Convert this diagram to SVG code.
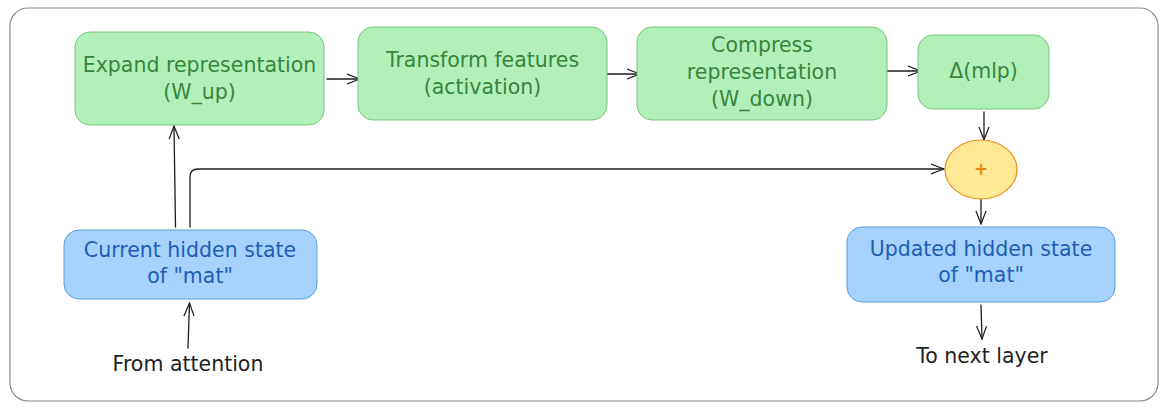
<svg xmlns="http://www.w3.org/2000/svg" width="1168" height="410" viewBox="0 0 1168 410">
<defs>
<style>
.frame{fill:#ffffff;stroke:#8c8c8c;stroke-width:1.2}
.g{fill:#b2f0b9;stroke:#7cc47f;stroke-width:1}
.b{fill:#a5d3fd;stroke:#5b9be0;stroke-width:1}
.y{fill:#ffe995;stroke:#ec8e1c;stroke-width:1.2}
text{font-family:"DejaVu Sans","Liberation Sans",sans-serif;font-size:20.5px;text-anchor:middle}
.tg{fill:#36863c}
.tb{fill:#1f5db5}
.tk{fill:#1e1e1e}
.to{fill:#e8870e;font-weight:bold;font-size:17px}
.c{fill:none;stroke:#1e1e1e;stroke-width:1.3;stroke-linecap:round;stroke-linejoin:round}
</style>
<marker id="arr" viewBox="0 0 14 12" refX="13" refY="6" markerWidth="14" markerHeight="12" markerUnits="userSpaceOnUse" orient="auto">
<path d="M0,1 L13,6 L0,11" fill="none" stroke="#1e1e1e" stroke-width="1.2" stroke-linecap="round" stroke-linejoin="round"/>
</marker>
</defs>
<rect class="frame" x="10" y="8" width="1148" height="393" rx="18"/>
<g id="connectors">
<path class="c" d="M327,79 L360,79" marker-end="url(#arr)"/>
<path class="c" d="M606,74 L640,74" marker-end="url(#arr)"/>
<path class="c" d="M884,71 L921,71" marker-end="url(#arr)"/>
<path class="c" d="M175.5,227 L174,126" marker-end="url(#arr)"/>
<path class="c" d="M190,227 L190,177 Q190,169 198,169 L944,169" marker-end="url(#arr)"/>
<path class="c" d="M984,112 L984,140" marker-end="url(#arr)"/>
<path class="c" d="M981,197 L981,224" marker-end="url(#arr)"/>
<path class="c" d="M188,348 L189.5,303" marker-end="url(#arr)"/>
<path class="c" d="M981,305 L982,339" marker-end="url(#arr)"/>
</g>
<g id="expand">
<rect class="g" x="75" y="32" width="249" height="93" rx="15"/>
<text class="tg" x="199.5" y="72">Expand representation</text>
<text class="tg" x="199.5" y="99">(W_up)</text>
</g>
<g id="transform">
<rect class="g" x="358" y="27" width="249" height="93" rx="15"/>
<text class="tg" x="482.5" y="67">Transform features</text>
<text class="tg" x="482.5" y="94">(activation)</text>
</g>
<g id="compress">
<rect class="g" x="637" y="27" width="250" height="93" rx="15"/>
<text class="tg" x="762" y="52">Compress</text>
<text class="tg" x="762" y="79">representation</text>
<text class="tg" x="762" y="106">(W_down)</text>
</g>
<g id="delta">
<rect class="g" x="918" y="35" width="131" height="74" rx="15"/>
<text class="tg" x="983.5" y="78">Δ(mlp)</text>
</g>
<g id="plus">
<ellipse class="y" cx="981" cy="169.5" rx="36" ry="29.5"/>
<text class="to" x="981" y="175">+</text>
</g>
<g id="current">
<rect class="b" x="64" y="230" width="253" height="69" rx="15"/>
<text class="tb" x="190" y="257">Current hidden state</text>
<text class="tb" x="190" y="283">of "mat"</text>
</g>
<g id="updated">
<rect class="b" x="847" y="227" width="268" height="75" rx="15"/>
<text class="tb" x="981" y="256">Updated hidden state</text>
<text class="tb" x="981" y="282">of "mat"</text>
</g>
<g id="from-attention">
<text class="tk" x="188" y="371">From attention</text>
</g>
<g id="to-next-layer">
<text class="tk" x="982" y="363">To next layer</text>
</g>
</svg>
